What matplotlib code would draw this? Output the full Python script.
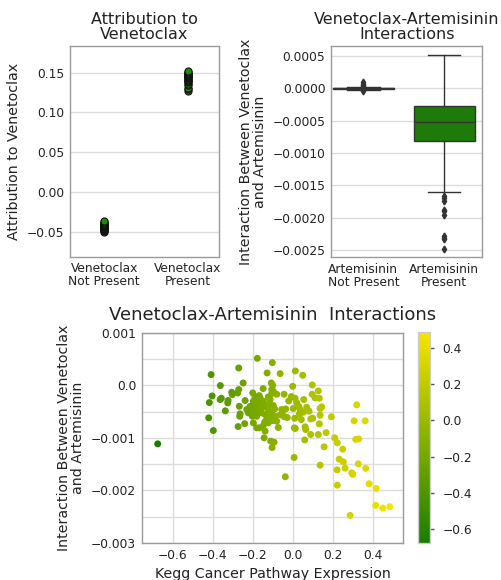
import numpy as np
import matplotlib
matplotlib.use("Agg")
import matplotlib.pyplot as plt
from matplotlib.colors import LinearSegmentedColormap
from matplotlib.ticker import FixedLocator, FixedFormatter, MultipleLocator

plt.rcParams['font.family'] = ['DejaVu Sans']

# ---------------- data ----------------
attr_categories = ["Venetoclax\nNot Present", "Venetoclax\nPresent"]
attr_not_present = [-0.050, -0.049, -0.048, -0.048, -0.047, -0.047, -0.046, -0.046, -0.045,
                    -0.045, -0.044, -0.044, -0.043, -0.043, -0.042, -0.042, -0.041, -0.041,
                    -0.040, -0.040, -0.039, -0.038, -0.037]
attr_present = [0.127, 0.129, 0.131, 0.134, 0.136, 0.138, 0.139, 0.140, 0.141, 0.142,
                0.143, 0.144, 0.145, 0.146, 0.146, 0.147, 0.148, 0.149, 0.150, 0.151, 0.152]

box_categories = ["Artemisinin\nNot Present", "Artemisinin\nPresent"]
inter_not_present = [-0.00004, -0.00002, -0.000015, -0.00001, -0.00001, -0.000008, -0.000005,
                     -0.000004, -0.000003, -0.000002, -0.000001, 0.0, 0.0, 0.000001, 0.000002,
                     0.000003, 0.000004, 0.000005, 0.000006, 0.000008, 0.00001, 0.000012,
                     0.00002, 0.00003, 0.00005, 0.00007, 0.0001]

# Kegg Cancer Pathway Expression (x) and interaction (y, in units of 0.001)
kegg_x = [-0.675, -0.408, -0.403, -0.417, -0.420, -0.397, -0.362, -0.363, -0.357, -0.337,
          -0.325, -0.323, -0.305, -0.302, -0.270, -0.270, -0.275, -0.248, -0.238, -0.267,
          -0.263, -0.265, -0.273, -0.240, -0.177, -0.102, -0.128, -0.063, 0.013, 0.050,
          -0.107, -0.100, -0.148, -0.105, -0.200, -0.168,
          0.000, 0.098, 0.128, 0.097, 0.112, 0.133, 0.145, 0.137, 0.055, 0.193,
          0.137, 0.100, 0.133, 0.090, 0.128, 0.167, 0.060, 0.210, 0.223, 0.250,
          0.320, 0.307, 0.362, 0.315, 0.330, 0.157, 0.007, 0.137, 0.232, 0.253,
          0.262, 0.222, 0.328, 0.295, 0.300, 0.365, 0.223, 0.382, 0.417, 0.415,
          0.450, 0.485, 0.287, -0.037,
          -0.043, -0.020, -0.007, 0.012, 0.020, 0.030, 0.003, 0.037, 0.053, 0.033,
          0.043, 0.010, 0.008, 0.013, 0.062, 0.065, 0.090, -0.027, -0.042, -0.063,
          -0.072, -0.035, 0.070, 0.082,
          -0.197, -0.188, -0.180, -0.205, -0.172, -0.163, -0.147, -0.133, -0.122, -0.113,
          -0.097, -0.105, -0.088, -0.130, -0.147, -0.167, -0.138, -0.143, -0.110, -0.093,
          -0.103, -0.197, -0.202, -0.222, -0.180, -0.155, -0.105, -0.122, -0.097, -0.080,
          -0.055, -0.050, -0.080, -0.100, -0.122, -0.180, -0.188, -0.213, -0.230, -0.172,
          -0.138, -0.160, -0.150, -0.185, -0.120, -0.090, -0.175, -0.195, -0.140, -0.115]
kegg_y = [-1.114, 0.203, -0.203, -0.329, -0.620, -0.861, -0.006, -0.272, -0.247, -0.487,
          -0.335, -0.290, -0.133, -0.177, 0.329, -0.082, -0.146, 0.044, -0.290, -0.400,
          -0.544, -0.590, -0.785, -0.730, 0.513, 0.430, 0.234, 0.222, 0.272, 0.190,
          0.044, 0.000, -0.063, -0.082, -0.146, -0.196,
          -0.020, 0.006, -0.108, -0.171, -0.240, -0.247, -0.410, -0.443, -0.272, -0.600,
          -0.570, -0.627, -0.734, -0.937, -0.937, -0.900, -1.040, -1.000, -1.095, -1.215,
          -0.373, -0.677, -0.677, -1.030, -1.020, -1.170, -1.373, -1.520, -1.405, -1.456,
          -1.576, -1.608, -1.494, -1.665, -1.696, -1.582, -1.900, -1.873, -1.962, -2.285,
          -2.335, -2.310, -2.475, -1.740,
          -0.171, -0.297, -0.215, -0.247, -0.330, -0.400, -0.443, -0.462, -0.513, -0.544,
          -0.652, -0.627, -0.810, -0.823, -0.791, -0.842, -0.640, -0.614, -0.600, -0.563,
          -0.804, -0.449, -0.418, -0.494,
          -0.304, -0.367, -0.430, -0.462, -0.335, -0.240, -0.304, -0.400, -0.462, -0.272,
          -0.386, -0.525, -0.589, -0.652, -0.766, -0.810, -0.873, -1.000, -1.063, -1.082,
          -1.184, -0.715, -0.589, -0.525, -0.589, -0.525, -0.158, -0.222, -0.114, -0.171,
          -0.462, -0.557, -0.684, -0.671, -0.715, -0.810, -0.222, -0.400, -0.462, -0.494,
          -0.557, -0.380, -0.420, -0.350, -0.360, -0.450, -0.260, -0.520, -0.700, -0.600]

bottom_yticks = [0.001, 0.0, -0.001, -0.002, -0.003]
bottom_yticklabels = ["0.001", "0.0", "\u22120.001", "\u22120.002", "\u22120.003"]

kegg_x = np.array(kegg_x)
kegg_y = np.array(kegg_y) * 0.001

# ---------------- style ----------------
spine_col = "#9a9a9a"
grid_col = "#dcdcdc"
text_col = "#222222"
box_green = "#1e7b0a"
cmap = LinearSegmentedColormap.from_list("gy", ["#1a7d00", "#f7e400"])
TICK = 8.8
LABEL = 10.2
TITLE = 11.5

fig = plt.figure(figsize=(5.02, 5.80), dpi=100)

def style(ax):
    ax.set_facecolor("white")
    for s in ax.spines.values():
        s.set_color(spine_col)
        s.set_linewidth(1.0)
    ax.tick_params(length=0, labelsize=TICK, colors=text_col, pad=4)
    ax.set_axisbelow(True)

# ---- top-left: attribution strip plot ----
ax1 = fig.add_axes([0.1394, 0.5574, 0.2968, 0.3633])
style(ax1)
ax1.scatter(np.zeros(len(attr_not_present)), attr_not_present, s=26, c="#1f8a0c",
            edgecolors="#111111", linewidths=0.8, zorder=3)
ax1.scatter(np.ones(len(attr_present)), attr_present, s=26, c="#1f8a0c",
            edgecolors="#111111", linewidths=0.8, zorder=3)
ax1.set_xlim(-0.41, 1.37)
ax1.set_ylim(-0.0814, 0.1836)
ax1.set_xticks([0, 1])
ax1.set_xticklabels(attr_categories, fontsize=TICK, linespacing=1.0)
ax1.set_yticks([-0.05, 0.0, 0.05, 0.10, 0.15])
ax1.set_yticklabels(["\u22120.05", "0.00", "0.05", "0.10", "0.15"])
ax1.yaxis.grid(True, color=grid_col, linewidth=1.0)
ax1.set_ylabel("Attribution to Venetoclax", fontsize=LABEL, color=text_col, labelpad=4)
ax1.set_title("Attribution to\nVenetoclax", fontsize=TITLE, color=text_col,
              linespacing=1.0, pad=5)

# ---- top-right: interaction boxplot ----
ax2 = fig.add_axes([0.6594, 0.5564, 0.3014, 0.3638])
style(ax2)
line_kw = dict(color="#333333", linewidth=1.0)
bp = ax2.boxplot([inter_not_present, list(kegg_y)], positions=[0, 1], widths=0.76,
                 patch_artist=True, whis=1.5,
                 boxprops=dict(facecolor=box_green, edgecolor="#333333", linewidth=1.0),
                 medianprops=line_kw, whiskerprops=line_kw, capprops=line_kw,
                 flierprops=dict(marker="d", markerfacecolor="#333333",
                                 markeredgecolor="#333333", markersize=3.5),
                 zorder=3)
for cap in bp["caps"]:
    cap.set_xdata(np.mean(cap.get_xdata()) + np.array([-0.2, 0.2]))
for b in bp["boxes"]:
    b.set_clip_on(False)
ax2.set_xlim(-0.4, 1.47)
ax2.set_ylim(-0.00261, 0.00065)
ax2.set_xticks([0, 1])
ax2.set_xticklabels(box_categories, fontsize=TICK, linespacing=1.0)
yt2 = [0.0005, 0.0, -0.0005, -0.0010, -0.0015, -0.0020, -0.0025]
ax2.set_yticks(yt2)
ax2.set_yticklabels([("%.4f" % v).replace("-", "\u2212") for v in yt2])
ax2.yaxis.grid(True, color=grid_col, linewidth=1.0)
ax2.set_ylabel("Interaction Between Venetoclax\nand Artemisinin", fontsize=LABEL,
               color=text_col, linespacing=1.0, labelpad=4)
ax2.set_title("Venetoclax-Artemisinin\nInteractions", fontsize=TITLE, color=text_col,
              linespacing=1.0, pad=5)

# ---- bottom: scatter colored by Kegg expression ----
ax3 = fig.add_axes([0.2823, 0.0638, 0.5211, 0.3626])
style(ax3)
sc = ax3.scatter(kegg_x, kegg_y, c=kegg_x, cmap=cmap, s=25, edgecolors="none", zorder=3)
ax3.set_xlim(-0.755, 0.553)
ax3.set_ylim(-0.003, 0.001)
ax3.set_xticks([-0.6, -0.4, -0.2, 0.0, 0.2, 0.4])
ax3.set_xticklabels(["\u22120.6", "\u22120.4", "\u22120.2", "0.0", "0.2", "0.4"])
ax3.yaxis.set_major_locator(FixedLocator(bottom_yticks))
ax3.yaxis.set_major_formatter(FixedFormatter(bottom_yticklabels))
ax3.yaxis.set_minor_locator(MultipleLocator(0.0005))
ax3.tick_params(which="minor", length=0)
ax3.grid(True, which="major", color=grid_col, linewidth=1.0)
ax3.yaxis.grid(True, which="minor", color=grid_col, linewidth=1.0)
ax3.set_xlabel("Kegg Cancer Pathway Expression", fontsize=LABEL, color=text_col, labelpad=4)
ax3.set_ylabel("Interaction Between Venetoclax\nand Artemisinin", fontsize=LABEL,
               color=text_col, linespacing=1.0, labelpad=4)
ax3.set_title("Venetoclax-Artemisinin  Interactions", fontsize=13, color=text_col, pad=9)

cax = fig.add_axes([0.8327, 0.0643, 0.0239, 0.3626])
cb = fig.colorbar(sc, cax=cax)
cb.outline.set_edgecolor("#cccccc")
cb.outline.set_linewidth(1.0)
cb.set_ticks([-0.6, -0.4, -0.2, 0.0, 0.2, 0.4])
cb.set_ticklabels(["\u22120.6", "\u22120.4", "\u22120.2", "0.0", "0.2", "0.4"])
cax.tick_params(length=3, width=1, color="#555555", labelsize=TICK, labelcolor=text_col, pad=6)

fig.savefig("out.png", dpi=100, facecolor="white")
